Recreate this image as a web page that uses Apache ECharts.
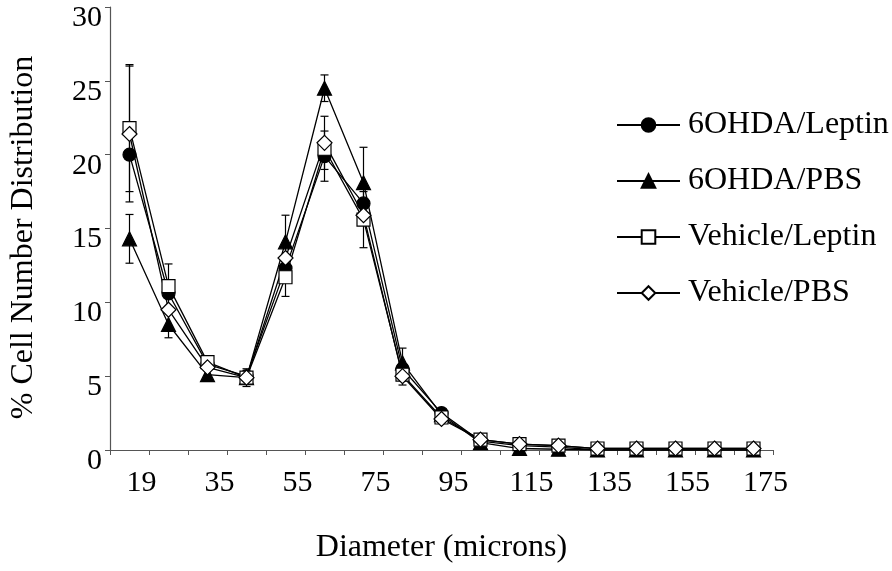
<!DOCTYPE html>
<html>
<head>
<meta charset="utf-8">
<script src="https://cdn.jsdelivr.net/npm/echarts@6/dist/echarts.min.js"></script>
<style>
  html, body { margin: 0; padding: 0; background: #fff; }
  #chart { width: 892px; height: 571px; }
</style>
</head>
<body>
<div id="chart"></div>
<script>
// diameter classes (every other one is labelled)
const diameters = ['19', '25', '35', '45', '55', '65', '75', '85', '95', '105', '115', '125', '135', '145', '155', '165', '175']

// % cell number distribution per group
const ohdaLeptin = [20.0, 10.6, 5.8, 5.0, 12.3, 19.9, 16.7, 5.5, 2.5, 0.6, 0.3, 0.2, 0, 0, 0, 0, 0]
const ohdaPbs = [14.3, 8.5, 5.1, 4.9, 14.1, 24.5, 18.1, 5.9, 2.4, 0.5, 0.1, 0.05, 0, 0, 0, 0, 0]
const vehLeptin = [21.8, 11.1, 5.95, 4.9, 11.7, 20.4, 15.6, 5.1, 2.2, 0.7, 0.4, 0.3, 0.1, 0.1, 0.1, 0.1, 0.1]
const vehPbs = [21.4, 9.5, 5.6, 4.9, 13.0, 20.8, 15.9, 5.0, 2.1, 0.7, 0.4, 0.3, 0.1, 0.1, 0.1, 0.1, 0.1]

// SEM (0 = no visible bar)
const ohdaLeptinErr = [0, 0, 0, 0, 0, 1.7, 0, 0, 0, 0, 0, 0, 0, 0, 0, 0, 0]
const ohdaPbsErr = [1.65, 0.9, 0.4, 0, 1.8, 0.9, 2.4, 1.0, 0, 0, 0, 0, 0, 0, 0, 0, 0]
const vehLeptinErr = [4.3, 1.5, 0, 0.6, 1.3, 0, 1.9, 0.7, 0, 0, 0, 0, 0, 0, 0, 0, 0]
const vehPbsErr = [4.6, 0, 0, 0, 0, 1.8, 0, 0, 0, 0, 0, 0, 0, 0, 0, 0, 0]

const yTicks = [0, 5, 10, 15, 20, 25, 30]

const font = 'Liberation Serif, Times New Roman, serif'
const chart = echarts.init(document.getElementById('chart'))

// error bars: vertical line with small caps
function errSeries (values, errs) {
  const data = []
  values.forEach((v, i) => {
    if (errs[i] > 0) data.push([i, v - errs[i], v + errs[i]])
  })
  return {
    type: 'custom',
    silent: true,
    z: 1,
    data: data,
    renderItem: function (params, api) {
      const lo = api.coord([api.value(0), api.value(1)])
      const hi = api.coord([api.value(0), api.value(2)])
      const w = 4
      const style = { stroke: '#000', lineWidth: 1.2 }
      return {
        type: 'group',
        children: [
          { type: 'line', shape: { x1: hi[0], y1: hi[1], x2: lo[0], y2: lo[1] }, style: style },
          { type: 'line', shape: { x1: hi[0] - w, y1: hi[1], x2: hi[0] + w, y2: hi[1] }, style: style },
          { type: 'line', shape: { x1: lo[0] - w, y1: lo[1], x2: lo[0] + w, y2: lo[1] }, style: style }
        ]
      }
    }
  }
}

function lineSeries (name, values, symbol, size, fill) {
  return {
    name: name,
    type: 'line',
    data: values,
    z: 3,
    symbol: symbol,
    symbolSize: size,
    showAllSymbol: true,
    lineStyle: { color: '#000', width: 1.3 },
    itemStyle: { color: fill, borderColor: '#000', borderWidth: 1.2 }
  }
}

const option = {
  animation: false,
  backgroundColor: '#fff',
  textStyle: { fontFamily: font, color: '#000' },
  grid: { left: 110, right: 119, top: 7, bottom: 121 },
  legend: {
    orient: 'vertical',
    left: 611,
    top: 104,
    itemWidth: 63,
    itemHeight: 17,
    itemGap: 24,
    textStyle: { fontFamily: font, fontSize: 32, color: '#000', padding: [0, 0, 0, 3] },
    data: ['6OHDA/Leptin', '6OHDA/PBS', 'Vehicle/Leptin', 'Vehicle/PBS']
  },
  xAxis: {
    type: 'category',
    data: diameters,
    boundaryGap: true,
    name: 'Diameter (microns)',
    nameLocation: 'middle',
    nameGap: 82,
    nameTextStyle: { fontFamily: font, fontSize: 32, color: '#000' },
    axisLine: { lineStyle: { color: '#555', width: 1.2 } },
    axisTick: { show: true, interval: 0, length: 5, inside: false, lineStyle: { color: '#555' } },
    axisLabel: {
      interval: 1,
      margin: 18,
      fontFamily: font,
      fontSize: 30,
      color: '#000',
      padding: [0, 0, 0, 24]
    }
  },
  yAxis: {
    type: 'value',
    min: yTicks[0],
    max: yTicks[yTicks.length - 1],
    interval: 5,
    name: '% Cell Number Distribution',
    nameLocation: 'middle',
    nameGap: 70,
    nameTextStyle: { fontFamily: font, fontSize: 32, color: '#000', padding: [0, 18, 0, 0] },
    splitLine: { show: false },
    axisLine: { show: true, lineStyle: { color: '#555', width: 1.2 } },
    axisTick: { show: true, length: 5, lineStyle: { color: '#555' } },
    axisLabel: {
      margin: 8,
      fontFamily: font,
      fontSize: 30,
      color: '#000',
      verticalAlign: 'top',
      lineHeight: 22
    }
  },
  series: [
    errSeries(ohdaLeptin, ohdaLeptinErr),
    errSeries(ohdaPbs, ohdaPbsErr),
    errSeries(vehLeptin, vehLeptinErr),
    errSeries(vehPbs, vehPbsErr),
    lineSeries('6OHDA/Leptin', ohdaLeptin, 'circle', 13, '#000'),
    lineSeries('6OHDA/PBS', ohdaPbs, 'triangle', 14, '#000'),
    lineSeries('Vehicle/Leptin', vehLeptin, 'rect', 13, '#fff'),
    lineSeries('Vehicle/PBS', vehPbs, 'diamond', 15, '#fff')
  ]
}

chart.setOption(option)

window.addEventListener('resize', () => {
  chart.resize()
})
</script>
</body>
</html>
